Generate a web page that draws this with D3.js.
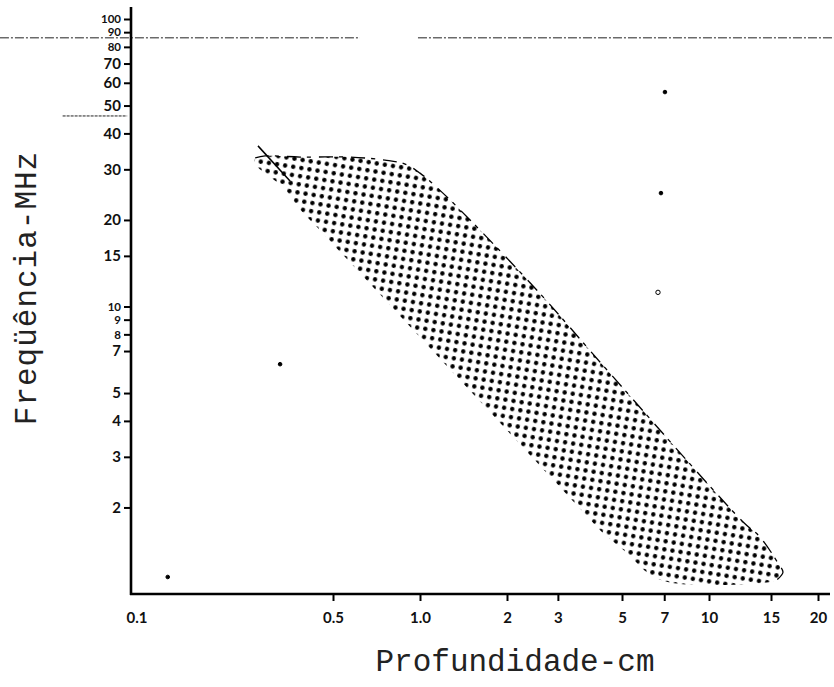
<!DOCTYPE html>
<html>
<head>
<meta charset="utf-8">
<script src="https://cdn.jsdelivr.net/npm/d3@7"></script>
<style>
  html, body { margin: 0; padding: 0; background: #fff; }
  svg { display: block; }
</style>
</head>
<body>
<svg id="chart" width="834" height="687"></svg>
<script>
// ---------- data ----------
const xTickValues = [0.5, 1, 2, 3, 5, 7, 10, 15, 20];
const xTickLabels = ["0.5", "1.0", "2", "3", "5", "7", "10", "15", "20"];
const xOriginLabel = "0.1";
const yTickValues = [100, 90, 80, 70, 60, 50, 40, 30, 20, 15, 10, 9, 8, 7, 5, 4, 3, 2];
const yTightTicks = [100, 90, 80, 10, 9, 8];
const xTitle = "Profundidade-cm";
const yTitle = "Freqüência-MHz";

// shaded region (depth cm, frequency MHz), clockwise from the upper-left tip
const regionDepth = [0.269, 0.291, 0.385, 0.572, 0.756, 0.888, 1.0, 1.17, 1.49, 2.60, 4.44, 12.5, 13.95, 15.66, 16.14, 15.55, 12.82, 7.94, 6.77, 6.10, 5.20, 4.30, 3.44, 1.375, 0.542, 0.440, 0.385, 0.336, 0.291, 0.271];
const regionFreq  = [32.9, 33.4, 33.1, 33.1, 32.3, 31.3, 29.1, 25.4, 20.0, 11.1, 6.01, 1.78, 1.58, 1.28, 1.19, 1.12, 1.083, 1.083, 1.12, 1.19, 1.39, 1.63, 2.07, 5.55, 15.1, 18.9, 21.7, 26.0, 29.1, 31.0];
const outlineCount = 16; // first points of the region carry the drawn outline

// pencil stroke at the upper-left tip
const strokeDepth = [0.275, 0.355];
const strokeFreq = [36.2, 27.3];

// horizontal reference lines (frequency, depth extent)
const refFreq = [86, 86, 46];
const refFrom = [0.0352, 0.984, 0.058];
const refTo   = [0.62, 23, 0.097];

// specks on the scan
const speckDepth = [0.328, 0.134, 6.66, 6.82, 7.04];
const speckFreq  = [6.3, 1.146, 11.2, 24.8, 55.7];

// ---------- scales ----------
const svg = d3.select("#chart");
const x = d3.scaleLog().domain([0.1, 10, 15, 20]).range([131, 709, 771, 818]);
const y = d3.scaleLog().domain([1, 100]).range([594, 19]);

// pattern of dots
const defs = svg.append("defs");
const pat = defs.append("pattern")
  .attr("id", "dots")
  .attr("patternUnits", "userSpaceOnUse")
  .attr("width", 8.2).attr("height", 8.2)
  .attr("patternTransform", "rotate(9)");
pat.append("circle").attr("cx", 4.1).attr("cy", 4.1).attr("r", 2.2).attr("fill", "#000");

// reference lines
svg.append("g").selectAll("line").data(refFreq).join("line")
  .attr("x1", (d, i) => x(refFrom[i]))
  .attr("x2", (d, i) => x(refTo[i]))
  .attr("y1", d => y(d)).attr("y2", d => y(d))
  .attr("stroke", "#222").attr("stroke-width", 1)
  .attr("stroke-dasharray", (d, i) => i === 2 ? "3 1" : "9 2 2 2");

// region
const pts = regionDepth.map((d, i) => [x(d), y(regionFreq[i])]);
svg.append("path")
  .attr("d", d3.line().curve(d3.curveCatmullRomClosed.alpha(0.5))(pts))
  .attr("fill", "url(#dots)")
  .attr("stroke", "none");

// partial outline along the upper and right edges
svg.append("path")
  .attr("d", d3.line().curve(d3.curveCatmullRom.alpha(0.5))(pts.slice(0, outlineCount)))
  .attr("fill", "none")
  .attr("stroke", "#000")
  .attr("stroke-width", 1.3)
  .attr("stroke-dasharray", "14 6 4 8");

// pencil stroke
svg.append("line")
  .attr("x1", x(strokeDepth[0])).attr("y1", y(strokeFreq[0]))
  .attr("x2", x(strokeDepth[1])).attr("y2", y(strokeFreq[1]))
  .attr("stroke", "#000").attr("stroke-width", 1.5);

// specks
svg.append("g").selectAll("circle").data(speckDepth).join("circle")
  .attr("cx", d => x(d))
  .attr("cy", (d, i) => y(speckFreq[i]))
  .attr("r", (d, i) => i === 2 ? 2.2 : 1.8)
  .attr("fill", (d, i) => i === 2 ? "none" : "#000")
  .attr("stroke", "#000").attr("stroke-width", 1);

// ---------- axes ----------
const tickFont = "Lato, 'Open Sans', sans-serif";

const yAxis = svg.append("g")
  .attr("transform", `translate(${x(0.1)},0)`)
  .call(d3.axisLeft(y).tickValues(yTickValues).tickFormat(d => String(d)).tickSize(7).tickPadding(3));
yAxis.select(".domain").remove();
yAxis.selectAll(".tick line").attr("stroke", "#000").attr("stroke-width", 2);
yAxis.selectAll(".tick text")
  .attr("font-family", tickFont)
  .attr("font-size", d => yTightTicks.includes(d) ? 11.5 : 15)
  .attr("font-weight", 700)
  .attr("fill", "#111");

const xAxis = svg.append("g")
  .attr("transform", `translate(0,${y(1)})`)
  .call(d3.axisBottom(x).tickValues(xTickValues).tickFormat((d, i) => xTickLabels[i]).tickSize(7).tickPadding(11));
xAxis.select(".domain").remove();
xAxis.selectAll(".tick line").attr("stroke", "#000").attr("stroke-width", 2);
xAxis.selectAll(".tick text")
  .attr("font-family", tickFont).attr("font-size", 15).attr("font-weight", 700)
  .attr("fill", "#111");
xAxis.append("text")
  .attr("x", x(0.1) + 6).attr("y", 18).attr("dy", "0.71em")
  .attr("text-anchor", "middle")
  .attr("font-family", tickFont).attr("font-size", 15).attr("font-weight", 700)
  .attr("fill", "#111").text(xOriginLabel);

// axis lines
svg.append("line")
  .attr("x1", x(0.1)).attr("x2", x(0.1))
  .attr("y1", 7).attr("y2", y(1) + 1)
  .attr("stroke", "#000").attr("stroke-width", 2.6);
svg.append("line")
  .attr("x1", x(0.1) - 1).attr("x2", 830)
  .attr("y1", y(1)).attr("y2", y(1))
  .attr("stroke", "#000").attr("stroke-width", 2.6);

// titles
svg.append("text")
  .attr("x", 515).attr("y", 671)
  .attr("text-anchor", "middle")
  .attr("font-family", "'Liberation Mono', 'DejaVu Sans Mono', monospace")
  .attr("font-size", 31).attr("fill", "#222")
  .text(xTitle);
svg.append("text")
  .attr("transform", "translate(36,288) rotate(-90)")
  .attr("text-anchor", "middle")
  .attr("font-family", "'Liberation Mono', 'DejaVu Sans Mono', monospace")
  .attr("font-size", 31).attr("letter-spacing", 1).attr("fill", "#222")
  .text(yTitle);
</script>
</body>
</html>
